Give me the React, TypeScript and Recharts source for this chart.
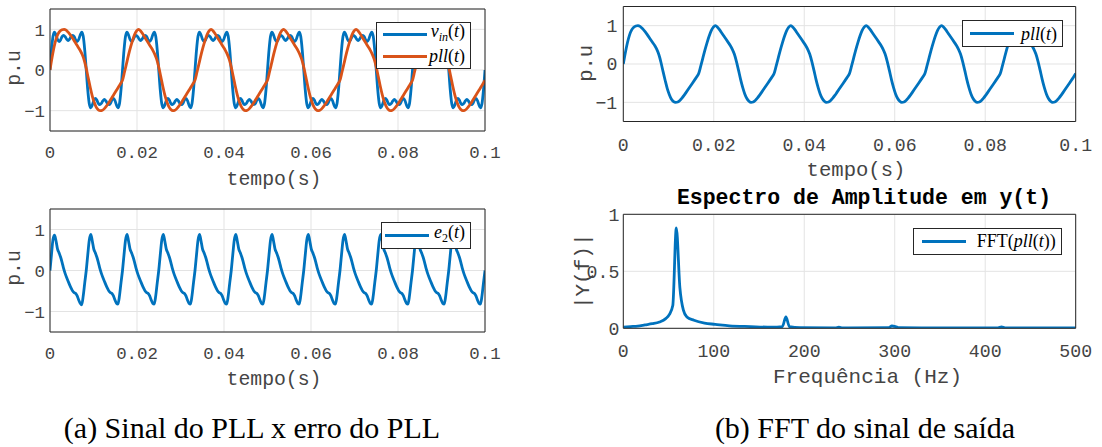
import React from 'react';
import { LineChart, Line, XAxis, YAxis, CartesianGrid, ReferenceLine, Legend } from 'recharts';

const BLUE = '#0072BD';
const ORANGE = '#D95319';
const AXIS = '#262626';
const GRID = '#e3e3e3';
const TXT = '#444';
const MONO = '"Liberation Mono", "Courier New", monospace';
const SERIF = '"Liberation Serif", "Times New Roman", serif';

// passo de amostragem (s)
const VIN_DT = 1 / 2880;
const PLL_DT = 1 / 2160;
const E2_DT = 1 / 2880;

const timeTicks = [0, 0.02, 0.04, 0.06, 0.08, 0.1];
const puTicks = [-1, 0, 1];
const freqTicks = [0, 100, 200, 300, 400, 500];
const ampTicks = [0, 0.5, 1];

// v_in(t)
const vin = [
  0, 0.49, 0.83, 0.93, 0.86, 0.75, 0.7, 0.74, 0.82, 0.85, 0.82, 0.76, 0.72, 0.76, 0.82, 0.85, 0.82, 0.74, 0.7, 0.75, 0.86, 0.93, 0.83, 0.49,
  0, -0.49, -0.83, -0.93, -0.86, -0.75, -0.7, -0.74, -0.82, -0.85, -0.82, -0.76, -0.72, -0.76, -0.82, -0.85, -0.82, -0.74, -0.7, -0.75, -0.86, -0.93, -0.83, -0.49,
  0, 0.49, 0.83, 0.93, 0.86, 0.75, 0.7, 0.74, 0.82, 0.85, 0.82, 0.76, 0.72, 0.76, 0.82, 0.85, 0.82, 0.74, 0.7, 0.75, 0.86, 0.93, 0.83, 0.49,
  0, -0.49, -0.83, -0.93, -0.86, -0.75, -0.7, -0.74, -0.82, -0.85, -0.82, -0.76, -0.72, -0.76, -0.82, -0.85, -0.82, -0.74, -0.7, -0.75, -0.86, -0.93, -0.83, -0.49,
  0, 0.49, 0.83, 0.93, 0.86, 0.75, 0.7, 0.74, 0.82, 0.85, 0.82, 0.76, 0.72, 0.76, 0.82, 0.85, 0.82, 0.74, 0.7, 0.75, 0.86, 0.93, 0.83, 0.49,
  0, -0.49, -0.83, -0.93, -0.86, -0.75, -0.7, -0.74, -0.82, -0.85, -0.82, -0.76, -0.72, -0.76, -0.82, -0.85, -0.82, -0.74, -0.7, -0.75, -0.86, -0.93, -0.83, -0.49,
  0, 0.49, 0.83, 0.93, 0.86, 0.75, 0.7, 0.74, 0.82, 0.85, 0.82, 0.76, 0.72, 0.76, 0.82, 0.85, 0.82, 0.74, 0.7, 0.75, 0.86, 0.93, 0.83, 0.49,
  0, -0.49, -0.83, -0.93, -0.86, -0.75, -0.7, -0.74, -0.82, -0.85, -0.82, -0.76, -0.72, -0.76, -0.82, -0.85, -0.82, -0.74, -0.7, -0.75, -0.86, -0.93, -0.83, -0.49,
  0, 0.49, 0.83, 0.93, 0.86, 0.75, 0.7, 0.74, 0.82, 0.85, 0.82, 0.76, 0.72, 0.76, 0.82, 0.85, 0.82, 0.74, 0.7, 0.75, 0.86, 0.93, 0.83, 0.49,
  0, -0.49, -0.83, -0.93, -0.86, -0.75, -0.7, -0.74, -0.82, -0.85, -0.82, -0.76, -0.72, -0.76, -0.82, -0.85, -0.82, -0.74, -0.7, -0.75, -0.86, -0.93, -0.83, -0.49,
  0, 0.49, 0.83, 0.93, 0.86, 0.75, 0.7, 0.74, 0.82, 0.85, 0.82, 0.76, 0.72, 0.76, 0.82, 0.85, 0.82, 0.74, 0.7, 0.75, 0.86, 0.93, 0.83, 0.49,
  0, -0.49, -0.83, -0.93, -0.86, -0.75, -0.7, -0.74, -0.82, -0.85, -0.82, -0.76, -0.72, -0.76, -0.82, -0.85, -0.82, -0.74, -0.7, -0.75, -0.86, -0.93, -0.83, -0.49,
  0,
];

// saída do PLL, pll(t)
const pll = [
  0, 0.3, 0.56, 0.76, 0.89, 0.96, 0.99, 1, 0.98, 0.93, 0.87, 0.8, 0.72, 0.64, 0.56, 0.48, 0.38, 0.24,
  0.04, -0.2, -0.43, -0.64, -0.8, -0.92, -0.98, -1, -0.99, -0.95, -0.89, -0.82, -0.74, -0.66, -0.58, -0.5, -0.42, -0.34,
  -0.25, -0.05, 0.16, 0.37, 0.56, 0.73, 0.87, 0.96, 1, 0.96, 0.89, 0.81, 0.73, 0.65, 0.57, 0.49, 0.39, 0.26,
  0.07, -0.16, -0.4, -0.61, -0.78, -0.9, -0.97, -1, -0.99, -0.95, -0.89, -0.82, -0.74, -0.66, -0.58, -0.5, -0.42, -0.34,
  -0.25, -0.05, 0.16, 0.37, 0.56, 0.73, 0.87, 0.96, 1, 0.96, 0.89, 0.81, 0.73, 0.65, 0.57, 0.49, 0.39, 0.26,
  0.07, -0.16, -0.4, -0.61, -0.78, -0.9, -0.97, -1, -0.99, -0.95, -0.89, -0.82, -0.74, -0.66, -0.58, -0.5, -0.42, -0.34,
  -0.25, -0.05, 0.16, 0.37, 0.56, 0.73, 0.87, 0.96, 1, 0.96, 0.89, 0.81, 0.73, 0.65, 0.57, 0.49, 0.39, 0.26,
  0.07, -0.16, -0.4, -0.61, -0.78, -0.9, -0.97, -1, -0.99, -0.95, -0.89, -0.82, -0.74, -0.66, -0.58, -0.5, -0.42, -0.34,
  -0.25, -0.05, 0.16, 0.37, 0.56, 0.73, 0.87, 0.96, 1, 0.96, 0.89, 0.81, 0.73, 0.65, 0.57, 0.49, 0.39, 0.26,
  0.07, -0.16, -0.4, -0.61, -0.78, -0.9, -0.97, -1, -0.99, -0.95, -0.89, -0.82, -0.74, -0.66, -0.58, -0.5, -0.42, -0.34,
  -0.25, -0.05, 0.16, 0.37, 0.56, 0.73, 0.87, 0.96, 1, 0.96, 0.89, 0.81, 0.73, 0.65, 0.57, 0.49, 0.39, 0.26,
  0.07, -0.16, -0.4, -0.61, -0.78, -0.9, -0.97, -1, -0.99, -0.95, -0.89, -0.82, -0.74, -0.66, -0.58, -0.5, -0.42, -0.34,
  -0.25,
];

// erro do PLL, e2(t)
const e2 = [
  0, 0.4, 0.76, 0.86, 0.72, 0.52, 0.43, 0.33, 0.2, 0.05, -0.07, -0.17, -0.26, -0.35, -0.43, -0.5, -0.54, -0.56, -0.62, -0.72, -0.8, -0.84, -0.62, -0.3,
  0, 0.38, 0.74, 0.88, 0.72, 0.52, 0.43, 0.33, 0.2, 0.05, -0.07, -0.17, -0.26, -0.35, -0.43, -0.5, -0.54, -0.56, -0.62, -0.72, -0.8, -0.82, -0.62, -0.3,
  0, 0.38, 0.74, 0.88, 0.72, 0.52, 0.43, 0.33, 0.2, 0.05, -0.07, -0.17, -0.26, -0.35, -0.43, -0.5, -0.54, -0.56, -0.62, -0.72, -0.8, -0.82, -0.62, -0.3,
  0, 0.38, 0.74, 0.88, 0.72, 0.52, 0.43, 0.33, 0.2, 0.05, -0.07, -0.17, -0.26, -0.35, -0.43, -0.5, -0.54, -0.56, -0.62, -0.72, -0.8, -0.82, -0.62, -0.3,
  0, 0.38, 0.74, 0.88, 0.72, 0.52, 0.43, 0.33, 0.2, 0.05, -0.07, -0.17, -0.26, -0.35, -0.43, -0.5, -0.54, -0.56, -0.62, -0.72, -0.8, -0.82, -0.62, -0.3,
  0, 0.38, 0.74, 0.88, 0.72, 0.52, 0.43, 0.33, 0.2, 0.05, -0.07, -0.17, -0.26, -0.35, -0.43, -0.5, -0.54, -0.56, -0.62, -0.72, -0.8, -0.82, -0.62, -0.3,
  0, 0.38, 0.74, 0.88, 0.72, 0.52, 0.43, 0.33, 0.2, 0.05, -0.07, -0.17, -0.26, -0.35, -0.43, -0.5, -0.54, -0.56, -0.62, -0.72, -0.8, -0.82, -0.62, -0.3,
  0, 0.38, 0.74, 0.88, 0.72, 0.52, 0.43, 0.33, 0.2, 0.05, -0.07, -0.17, -0.26, -0.35, -0.43, -0.5, -0.54, -0.56, -0.62, -0.72, -0.8, -0.82, -0.62, -0.3,
  0, 0.38, 0.74, 0.88, 0.72, 0.52, 0.43, 0.33, 0.2, 0.05, -0.07, -0.17, -0.26, -0.35, -0.43, -0.5, -0.54, -0.56, -0.62, -0.72, -0.8, -0.82, -0.62, -0.3,
  0, 0.38, 0.74, 0.88, 0.72, 0.52, 0.43, 0.33, 0.2, 0.05, -0.07, -0.17, -0.26, -0.35, -0.43, -0.5, -0.54, -0.56, -0.62, -0.72, -0.8, -0.82, -0.62, -0.3,
  0, 0.38, 0.74, 0.88, 0.72, 0.52, 0.43, 0.33, 0.2, 0.05, -0.07, -0.17, -0.26, -0.35, -0.43, -0.5, -0.54, -0.56, -0.62, -0.72, -0.8, -0.82, -0.62, -0.3,
  0, 0.38, 0.74, 0.88, 0.72, 0.52, 0.43, 0.33, 0.2, 0.05, -0.07, -0.17, -0.26, -0.35, -0.43, -0.5, -0.54, -0.56, -0.62, -0.72, -0.8, -0.82, -0.62, -0.3,
  0,
];

// espectro de amplitude
const fftFreq = [0, 8, 16, 24, 32, 40, 46.9, 50.8, 54.7, 58.6, 62.5, 66.4, 70.3, 78.1, 89.8, 101.6, 117.2, 140.6, 164, 175.8, 179.7, 183.6, 195.3, 234.4, 238.3, 242.2, 293, 296.9, 300.8, 304.7, 359.4, 414.1, 418, 421.9, 500];
const fftAmp = [0.01, 0.015, 0.02, 0.03, 0.04, 0.055, 0.085, 0.12, 0.2, 0.88, 0.36, 0.16, 0.1, 0.07, 0.045, 0.035, 0.022, 0.015, 0.01, 0.015, 0.1, 0.015, 0.005, 0.004, 0.01, 0.004, 0.005, 0.02, 0.015, 0.005, 0.004, 0.004, 0.012, 0.004, 0.003];

const toXY = (vals: number[], dt: number) => vals.map((y, i) => ({ x: i * dt, y }));
const vinData = toXY(vin, VIN_DT);
const pllData = toXY(pll, PLL_DT);
const e2Data = toXY(e2, E2_DT);
const fftData = fftFreq.map((x, i) => ({ x, y: fftAmp[i] }));

const fmt = (v: number) => (v < 0 ? '\u2212' + Math.abs(v) : String(v));

function AxisText({ tx, ty, text, rot, size }: any) {
  return (
    <text
      x={tx}
      y={ty}
      textAnchor="middle"
      dominantBaseline="central"
      transform={rot ? `rotate(-90 ${tx} ${ty})` : undefined}
      fontFamily={MONO}
      fontSize={size}
      fill={TXT}
    >
      {text}
    </text>
  );
}

type Row = { color: string; label: React.ReactNode };

function LegendBox({ width, rows, padL, padY }: { width: number; rows: Row[]; padL: number; padY: number }) {
  return (
    <div
      style={{
        width,
        boxSizing: 'border-box',
        border: `1px solid ${AXIS}`,
        background: '#fff',
        padding: `${padY}px 5px ${padY}px ${padL}px`,
      }}
    >
      {rows.map((r, i) => (
        <div key={i} style={{ display: 'flex', alignItems: 'center', justifyContent: 'space-between', height: 22 }}>
          <span style={{ display: 'block', width: 44, height: 2.8, background: r.color }} />
          <span style={{ fontFamily: SERIF, fontSize: 18, lineHeight: '22px', whiteSpace: 'nowrap', color: '#000' }}>
            {r.label}
          </span>
        </div>
      ))}
    </div>
  );
}

const sub = (s: string, italic: boolean) => (
  <span style={{ fontSize: 12, fontStyle: italic ? 'italic' : 'normal', verticalAlign: '-0.3em' }}>{s}</span>
);

type PanelProps = {
  left: number;
  top: number;
  width: number;
  height: number;
  margin: { top: number; right: number; bottom: number; left: number };
  yWidth: number;
  xDomain: [number, number];
  xTicks: number[];
  yDomain: [number, number];
  yTicks: number[];
  xTickMargin: number;
  yTickMargin: number;
  tickSize: number;
  labelSize: number;
  series: { key: string; data: { x: number; y: number }[]; color: string }[];
  xLabel: { text: string; tx: number; ty: number };
  yLabel: { text: string; tx: number; ty: number };
  legend: { left: number; top: number; width: number; padL: number; padY: number; rows: Row[] };
};

function Panel(p: PanelProps) {
  const tick = { fontFamily: MONO, fontSize: p.tickSize, fill: TXT };
  return (
    <div style={{ position: 'absolute', left: p.left, top: p.top }}>
      <LineChart width={p.width} height={p.height} margin={p.margin}>
        <CartesianGrid stroke={GRID} strokeWidth={1} />
        <XAxis
          type="number"
          dataKey="x"
          domain={p.xDomain}
          ticks={p.xTicks}
          interval={0}
          allowDataOverflow
          tickFormatter={fmt}
          tick={tick}
          tickLine={false}
          axisLine={false}
          tickSize={0}
          tickMargin={p.xTickMargin}
          height={60}
          label={<AxisText tx={p.xLabel.tx} ty={p.xLabel.ty} text={p.xLabel.text} size={p.labelSize} />}
        />
        <YAxis
          type="number"
          domain={p.yDomain}
          ticks={p.yTicks}
          interval={0}
          allowDataOverflow
          tickFormatter={fmt}
          tick={tick}
          tickLine={false}
          axisLine={false}
          tickSize={0}
          tickMargin={p.yTickMargin}
          width={p.yWidth}
          label={<AxisText tx={p.yLabel.tx} ty={p.yLabel.ty} text={p.yLabel.text} size={p.labelSize} rot />}
        />
        {p.series.map((s) => (
          <Line
            key={s.key}
            data={s.data}
            dataKey="y"
            type="monotone"
            stroke={s.color}
            strokeWidth={2.8}
            dot={false}
            activeDot={false}
            isAnimationActive={false}
          />
        ))}
        <ReferenceLine x={p.xDomain[0]} stroke={AXIS} strokeWidth={1} />
        <ReferenceLine x={p.xDomain[1]} stroke={AXIS} strokeWidth={1} />
        <ReferenceLine y={p.yDomain[0]} stroke={AXIS} strokeWidth={1} />
        <ReferenceLine y={p.yDomain[1]} stroke={AXIS} strokeWidth={1} />
        <Legend
          layout="vertical"
          align="center"
          verticalAlign="middle"
          wrapperStyle={{ left: p.legend.left, top: p.legend.top, width: 'auto', height: 'auto', margin: 0 }}
          content={() => (
            <LegendBox width={p.legend.width} rows={p.legend.rows} padL={p.legend.padL} padY={p.legend.padY} />
          )}
        />
      </LineChart>
    </div>
  );
}

const captionStyle: React.CSSProperties = {
  position: 'absolute',
  top: 413,
  width: 420,
  height: 30,
  lineHeight: '30px',
  textAlign: 'center',
  fontFamily: SERIF,
  fontSize: 30,
  color: '#000',
  whiteSpace: 'nowrap',
};

export default function App() {
  return (
    <div style={{ position: 'absolute', left: 0, top: 0, width: 1102, height: 447, background: '#fff', overflow: 'hidden' }}>
      <Panel
        left={0}
        top={0}
        width={560}
        height={200}
        margin={{ top: 9, right: 75, bottom: 9, left: 0 }}
        yWidth={50}
        xDomain={[0, 0.1]}
        xTicks={timeTicks}
        yDomain={[-1.5, 1.5]}
        yTicks={puTicks}
        xTickMargin={15}
        yTickMargin={5}
        tickSize={17.4}
        labelSize={19.8}
        series={[
          { key: 'vin', data: vinData, color: BLUE },
          { key: 'pll', data: pllData, color: ORANGE },
        ]}
        xLabel={{ text: 'tempo(s)', tx: 274, ty: 180 }}
        yLabel={{ text: 'p.u', tx: 15, ty: 68 }}
        legend={{
          left: 375.7,
          top: 21.7,
          width: 95.3,
          padL: 6.3,
          padY: 0.5,
          rows: [
            { color: BLUE, label: <><i>v</i>{sub('in', true)}(<i>t</i>)</> },
            { color: ORANGE, label: <><i>pll</i>(<i>t</i>)</> },
          ],
        }}
      />
      <Panel
        left={0}
        top={200}
        width={560}
        height={200}
        margin={{ top: 9, right: 75, bottom: 8, left: 0 }}
        yWidth={50}
        xDomain={[0, 0.1]}
        xTicks={timeTicks}
        yDomain={[-1.5, 1.5]}
        yTicks={puTicks}
        xTickMargin={15}
        yTickMargin={5}
        tickSize={17.4}
        labelSize={19.8}
        series={[{ key: 'e2', data: e2Data, color: BLUE }]}
        xLabel={{ text: 'tempo(s)', tx: 274, ty: 180 }}
        yLabel={{ text: 'p.u', tx: 15, ty: 68 }}
        legend={{
          left: 381,
          top: 21.7,
          width: 90,
          padL: 3,
          padY: 1.5,
          rows: [{ color: BLUE, label: <><i>e</i>{sub('2', false)}(<i>t</i>)</> }],
        }}
      />
      <Panel
        left={560}
        top={0}
        width={540}
        height={200}
        margin={{ top: 6.5, right: 24.3, bottom: 18.5, left: 0 }}
        yWidth={63.3}
        xDomain={[0, 0.1]}
        xTicks={timeTicks}
        yDomain={[-1.5, 1.5]}
        yTicks={puTicks}
        xTickMargin={16.5}
        yTickMargin={6}
        tickSize={18.2}
        labelSize={20.6}
        series={[{ key: 'pll', data: pllData, color: BLUE }]}
        xLabel={{ text: 'tempo(s)', tx: 296, ty: 170 }}
        yLabel={{ text: 'p.u', tx: 26.7, ty: 63.3 }}
        legend={{
          left: 402,
          top: 20,
          width: 101,
          padL: 7,
          padY: 1.5,
          rows: [{ color: BLUE, label: <><i>pll</i>(<i>t</i>)</> }],
        }}
      />
      <Panel
        left={560}
        top={185}
        width={540}
        height={215}
        margin={{ top: 29.3, right: 24.3, bottom: 11.7, left: 0 }}
        yWidth={63.3}
        xDomain={[0, 500]}
        xTicks={freqTicks}
        yDomain={[0, 1]}
        yTicks={ampTicks}
        xTickMargin={15.4}
        yTickMargin={4}
        tickSize={18.2}
        labelSize={21}
        series={[{ key: 'fft', data: fftData, color: BLUE }]}
        xLabel={{ text: 'Frequência (Hz)', tx: 307.5, ty: 192.7 }}
        yLabel={{ text: '|Y(f)|', tx: 24, ty: 86.3 }}
        legend={{
          left: 353.3,
          top: 42.7,
          width: 148.4,
          padL: 7.4,
          padY: 1.5,
          rows: [{ color: BLUE, label: <>FFT(<i>pll</i>(<i>t</i>))</> }],
        }}
      />
      <div
        style={{
          position: 'absolute',
          left: 560,
          top: 185,
          width: 608,
          height: 26,
          lineHeight: '26px',
          textAlign: 'center',
          fontFamily: MONO,
          fontWeight: 'bold',
          fontSize: 21.5,
          color: '#000',
          whiteSpace: 'nowrap',
        }}
      >
        Espectro de Amplitude em y(t)
      </div>
      <div style={{ ...captionStyle, left: 42 }}>(a) Sinal do PLL x erro do PLL</div>
      <div style={{ ...captionStyle, left: 655 }}>(b) FFT do sinal de saída</div>
    </div>
  );
}
